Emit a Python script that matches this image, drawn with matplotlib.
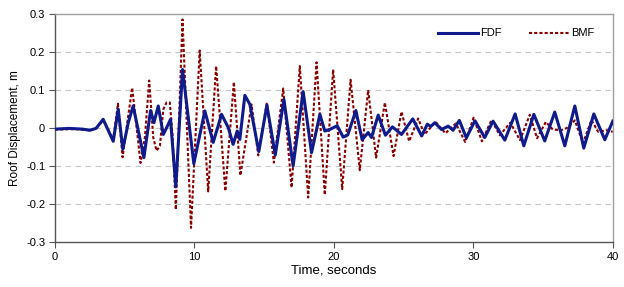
import matplotlib
matplotlib.use("Agg")
import matplotlib.pyplot as plt

# FDF roof displacement (m) vs time (s)
fdf_t = [0, 1.0, 2.0, 2.5, 2.95, 3.46, 4.18, 4.54, 4.87, 5.26, 5.61, 6.38, 6.86, 7.1, 7.41,
         7.77, 8.0, 8.29, 8.67, 9.15, 9.96, 10.75, 11.35, 11.95, 12.43, 12.78, 13.07, 13.26,
         13.62, 13.98, 14.62, 15.2, 15.8, 16.42, 17.08, 17.8, 18.4, 19.0, 19.35, 19.7, 20.24,
         20.67, 21.0, 21.58, 22.03, 22.46, 22.7, 23.18, 23.7, 24.2, 24.85, 25.66, 26.3, 26.7,
         26.95, 27.24, 27.72, 28.2, 28.55, 29.0, 29.5, 30.12, 30.82, 31.42, 32.26, 33.0, 33.62,
         34.34, 35.12, 35.84, 36.56, 37.28, 37.92, 38.64, 39.43, 40.0]
fdf_y = [-0.003, -0.001, -0.003, -0.006, -0.001, 0.023, -0.035, 0.049, -0.056, 0.014, 0.058,
         -0.078, 0.046, 0.014, 0.058, -0.017, 0.0, 0.023, -0.155, 0.154, -0.094, 0.045, -0.038,
         0.036, 0.001, -0.043, -0.008, -0.03, 0.086, 0.062, -0.062, 0.06, -0.071, 0.075, -0.1,
         0.096, -0.065, 0.036, -0.008, -0.004, 0.006, -0.024, -0.018, 0.046, -0.031, -0.012,
         -0.025, 0.034, -0.019, 0.003, -0.017, 0.024, -0.021, 0.01, 0.004, 0.014, -0.004, 0.005,
         -0.006, 0.02, -0.026, 0.019, -0.025, 0.018, -0.032, 0.037, -0.047, 0.036, -0.034, 0.042,
         -0.047, 0.058, -0.053, 0.037, -0.031, 0.018]

# BMF roof displacement (m) vs time (s)
bmf_t = [0, 1.5, 2.5, 2.95, 3.46, 4.18, 4.52, 4.85, 5.22, 5.54, 6.14, 6.45, 6.76, 7.05, 7.29,
         7.53, 7.77, 8.0, 8.24, 8.43, 8.67, 9.15, 9.76, 10.38, 10.99, 11.56, 12.22, 12.83, 13.3,
         14.1, 14.58, 15.2, 15.7, 16.37, 16.97, 17.56, 18.16, 18.76, 19.35, 19.95, 20.6, 21.2,
         21.86, 22.46, 23.03, 23.66, 24.28, 24.85, 25.4, 26.05, 26.5, 27.3, 28.0, 28.75, 29.42,
         30.02, 30.62, 31.3, 31.9, 32.65, 33.35, 34.05, 34.57, 35.2, 35.7, 36.3, 36.7, 37.28,
         37.87, 38.47, 38.95, 39.55, 40.0]
bmf_y = [-0.004, -0.003, -0.006, -0.001, 0.02, -0.03, 0.064, -0.077, 0.022, 0.106, -0.092,
         -0.025, 0.125, -0.025, -0.06, -0.047, 0.049, 0.067, 0.067, -0.017, -0.215, 0.286,
         -0.263, 0.204, -0.167, 0.163, -0.166, 0.121, -0.125, 0.062, -0.072, 0.067, -0.091,
         0.104, -0.157, 0.163, -0.183, 0.173, -0.176, 0.154, -0.161, 0.127, -0.111, 0.1, -0.078,
         0.067, -0.074, 0.043, -0.035, 0.025, -0.017, 0.016, -0.014, 0.012, -0.037, 0.027,
         -0.035, 0.021, -0.019, 0.014, -0.032, 0.035, -0.027, 0.016, -0.004, -0.006, 0.0, 0.02,
         -0.04, 0.021, -0.01, -0.006, -0.01]

x_ticks = [0, 10, 20, 30, 40]
y_ticks = [-0.3, -0.2, -0.1, 0, 0.1, 0.2, 0.3]
y_labels = ["-0.3", "-0.2", "-0.1", "0", "0.1", "0.2", "0.3"]

plt.rcParams['font.family'] = ['Liberation Sans', 'DejaVu Sans']

fig = plt.figure(figsize=(6.24, 2.87), dpi=100)
ax = fig.add_axes([0.088, 0.157, 0.894, 0.794])

# dashed grid lines
for v in [-0.2, -0.1, 0, 0.1, 0.2]:
    ax.axhline(v, color='#c8c8c8', lw=0.8, ls=(0, (5, 4)), zorder=0)

ax.plot(bmf_t, bmf_y, color='#8b0000', lw=1.5, ls=(0, (1.5, 1.0)), label='BMF', zorder=2)
ax.plot(fdf_t, fdf_y, color='#0f1a8c', lw=2.2, label='FDF', zorder=3)

ax.set_xlim(0, 40)
ax.set_ylim(-0.3, 0.3)
ax.set_xticks(x_ticks)
ax.set_yticks(y_ticks)
ax.set_yticklabels(y_labels)
ax.tick_params(labelsize=8, length=4, width=0.8, color='#555555', pad=3)

for side in ['left', 'bottom']:
    ax.spines[side].set_color('#555555')
    ax.spines[side].set_linewidth(1.0)
for side in ['top', 'right']:
    ax.spines[side].set_color('#a0a0a0')
    ax.spines[side].set_linewidth(1.0)

ax.set_xlabel('Time, seconds', fontsize=9.5, labelpad=2)
ax.set_ylabel('Roof Displacement, m', fontsize=8.5, labelpad=4)

handles, labels = ax.get_legend_handles_labels()
ax.legend(handles[::-1], labels[::-1], loc='center left', bbox_to_anchor=(0.668, 0.915),
          ncol=2, frameon=False, fontsize=8, handlelength=3.6, columnspacing=2.45,
          handletextpad=0.2)

fig.savefig('out.png', dpi=100)
